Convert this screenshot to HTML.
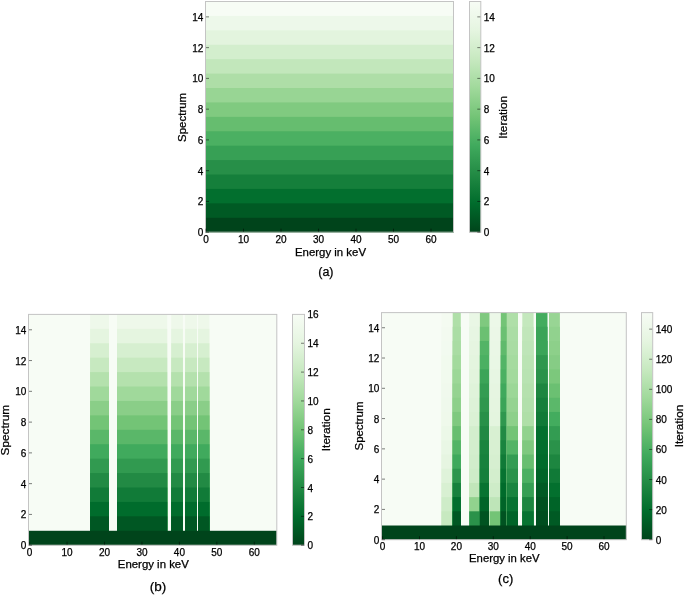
<!DOCTYPE html>
<html><head><meta charset="utf-8"><title>Figure</title>
<style>
html,body{margin:0;padding:0;background:#fff;width:685px;height:595px;overflow:hidden;}
svg{display:block;filter:blur(0.35px);font-family:"Liberation Sans",sans-serif;}
text{font-family:"Liberation Sans",sans-serif;fill:#000;stroke:#000;stroke-width:0.25px;}
</style></head><body>
<svg width="685" height="595" viewBox="0 0 685 595" font-family="Liberation Sans, sans-serif" fill="#000"><defs><linearGradient id="ga" x1="0" y1="1" x2="0" y2="0"><stop offset="0.0000" stop-color="#00441b"/><stop offset="0.1250" stop-color="#006c2c"/><stop offset="0.2500" stop-color="#228a44"/><stop offset="0.3750" stop-color="#40aa5d"/><stop offset="0.5000" stop-color="#73c476"/><stop offset="0.6250" stop-color="#a0d99b"/><stop offset="0.7500" stop-color="#c7e9c0"/><stop offset="0.8750" stop-color="#e5f5e0"/><stop offset="1.0000" stop-color="#f7fcf5"/></linearGradient><linearGradient id="gb" x1="0" y1="1" x2="0" y2="0"><stop offset="0.0000" stop-color="#00441b"/><stop offset="0.1250" stop-color="#006c2c"/><stop offset="0.2500" stop-color="#228a44"/><stop offset="0.3750" stop-color="#40aa5d"/><stop offset="0.5000" stop-color="#73c476"/><stop offset="0.6250" stop-color="#a0d99b"/><stop offset="0.7500" stop-color="#c7e9c0"/><stop offset="0.8750" stop-color="#e5f5e0"/><stop offset="1.0000" stop-color="#f7fcf5"/></linearGradient><linearGradient id="gc" x1="0" y1="1" x2="0" y2="0"><stop offset="0.0000" stop-color="#00441b"/><stop offset="0.1250" stop-color="#006c2c"/><stop offset="0.2500" stop-color="#228a44"/><stop offset="0.3750" stop-color="#40aa5d"/><stop offset="0.5000" stop-color="#73c476"/><stop offset="0.6250" stop-color="#a0d99b"/><stop offset="0.7500" stop-color="#c7e9c0"/><stop offset="0.8750" stop-color="#e5f5e0"/><stop offset="1.0000" stop-color="#f7fcf5"/></linearGradient></defs><rect x="0" y="0" width="685" height="595" fill="#fff"/><rect x="205.50" y="1.50" width="248.00" height="230.70" fill="#f7fcf5"/>
<rect x="205.50" y="15.92" width="248.00" height="216.28" fill="#edf8ea"/>
<rect x="205.50" y="30.34" width="248.00" height="201.86" fill="#e3f4de"/>
<rect x="205.50" y="44.76" width="248.00" height="187.44" fill="#d3eecd"/>
<rect x="205.50" y="59.18" width="248.00" height="173.02" fill="#c2e7bb"/>
<rect x="205.50" y="73.59" width="248.00" height="158.61" fill="#aedea7"/>
<rect x="205.50" y="88.01" width="248.00" height="144.19" fill="#98d594"/>
<rect x="205.50" y="102.43" width="248.00" height="129.77" fill="#80ca80"/>
<rect x="205.50" y="116.85" width="248.00" height="115.35" fill="#66bd6f"/>
<rect x="205.50" y="131.27" width="248.00" height="100.93" fill="#4bb062"/>
<rect x="205.50" y="145.69" width="248.00" height="86.51" fill="#37a055"/>
<rect x="205.50" y="160.11" width="248.00" height="72.09" fill="#278f48"/>
<rect x="205.50" y="174.52" width="248.00" height="57.68" fill="#157f3b"/>
<rect x="205.50" y="188.94" width="248.00" height="43.26" fill="#026f2e"/>
<rect x="205.50" y="203.36" width="248.00" height="28.84" fill="#005a24"/>
<rect x="205.50" y="217.78" width="248.00" height="14.42" fill="#00441b"/>
<rect x="205.50" y="1.50" width="248.00" height="230.70" fill="none" stroke="#c4c4c4" stroke-width="1"/>
<line x1="206.00" y1="232.20" x2="209.00" y2="232.20" stroke="#000" stroke-opacity="0.5" stroke-width="1"/>
<text x="203.30" y="236.20" font-size="10" text-anchor="end">0</text>
<line x1="206.00" y1="201.44" x2="209.00" y2="201.44" stroke="#000" stroke-opacity="0.5" stroke-width="1"/>
<text x="203.30" y="205.44" font-size="10" text-anchor="end">2</text>
<line x1="206.00" y1="170.68" x2="209.00" y2="170.68" stroke="#000" stroke-opacity="0.5" stroke-width="1"/>
<text x="203.30" y="174.68" font-size="10" text-anchor="end">4</text>
<line x1="206.00" y1="139.92" x2="209.00" y2="139.92" stroke="#000" stroke-opacity="0.5" stroke-width="1"/>
<text x="203.30" y="143.92" font-size="10" text-anchor="end">6</text>
<line x1="206.00" y1="109.16" x2="209.00" y2="109.16" stroke="#000" stroke-opacity="0.5" stroke-width="1"/>
<text x="203.30" y="113.16" font-size="10" text-anchor="end">8</text>
<line x1="206.00" y1="78.40" x2="209.00" y2="78.40" stroke="#000" stroke-opacity="0.5" stroke-width="1"/>
<text x="203.30" y="82.40" font-size="10" text-anchor="end">10</text>
<line x1="206.00" y1="47.64" x2="209.00" y2="47.64" stroke="#000" stroke-opacity="0.5" stroke-width="1"/>
<text x="203.30" y="51.64" font-size="10" text-anchor="end">12</text>
<line x1="206.00" y1="16.88" x2="209.00" y2="16.88" stroke="#000" stroke-opacity="0.5" stroke-width="1"/>
<text x="203.30" y="20.88" font-size="10" text-anchor="end">14</text>
<line x1="206.00" y1="231.70" x2="206.00" y2="228.70" stroke="#000" stroke-opacity="0.5" stroke-width="1"/>
<text x="206.00" y="243.20" font-size="10" text-anchor="middle">0</text>
<line x1="243.50" y1="231.70" x2="243.50" y2="228.70" stroke="#000" stroke-opacity="0.5" stroke-width="1"/>
<text x="243.50" y="243.20" font-size="10" text-anchor="middle">10</text>
<line x1="281.00" y1="231.70" x2="281.00" y2="228.70" stroke="#000" stroke-opacity="0.5" stroke-width="1"/>
<text x="281.00" y="243.20" font-size="10" text-anchor="middle">20</text>
<line x1="318.50" y1="231.70" x2="318.50" y2="228.70" stroke="#000" stroke-opacity="0.5" stroke-width="1"/>
<text x="318.50" y="243.20" font-size="10" text-anchor="middle">30</text>
<line x1="356.00" y1="231.70" x2="356.00" y2="228.70" stroke="#000" stroke-opacity="0.5" stroke-width="1"/>
<text x="356.00" y="243.20" font-size="10" text-anchor="middle">40</text>
<line x1="393.50" y1="231.70" x2="393.50" y2="228.70" stroke="#000" stroke-opacity="0.5" stroke-width="1"/>
<text x="393.50" y="243.20" font-size="10" text-anchor="middle">50</text>
<line x1="431.00" y1="231.70" x2="431.00" y2="228.70" stroke="#000" stroke-opacity="0.5" stroke-width="1"/>
<text x="431.00" y="243.20" font-size="10" text-anchor="middle">60</text>
<rect x="469.50" y="1.50" width="11.30" height="230.70" fill="url(#ga)"/>
<rect x="469.50" y="1.50" width="11.30" height="230.70" fill="none" stroke="#c4c4c4" stroke-width="1"/>
<line x1="477.30" y1="232.20" x2="480.30" y2="232.20" stroke="#000" stroke-opacity="0.5" stroke-width="1"/>
<text x="483.80" y="236.20" font-size="10" text-anchor="start">0</text>
<line x1="477.30" y1="201.44" x2="480.30" y2="201.44" stroke="#000" stroke-opacity="0.5" stroke-width="1"/>
<text x="483.80" y="205.44" font-size="10" text-anchor="start">2</text>
<line x1="477.30" y1="170.68" x2="480.30" y2="170.68" stroke="#000" stroke-opacity="0.5" stroke-width="1"/>
<text x="483.80" y="174.68" font-size="10" text-anchor="start">4</text>
<line x1="477.30" y1="139.92" x2="480.30" y2="139.92" stroke="#000" stroke-opacity="0.5" stroke-width="1"/>
<text x="483.80" y="143.92" font-size="10" text-anchor="start">6</text>
<line x1="477.30" y1="109.16" x2="480.30" y2="109.16" stroke="#000" stroke-opacity="0.5" stroke-width="1"/>
<text x="483.80" y="113.16" font-size="10" text-anchor="start">8</text>
<line x1="477.30" y1="78.40" x2="480.30" y2="78.40" stroke="#000" stroke-opacity="0.5" stroke-width="1"/>
<text x="483.80" y="82.40" font-size="10" text-anchor="start">10</text>
<line x1="477.30" y1="47.64" x2="480.30" y2="47.64" stroke="#000" stroke-opacity="0.5" stroke-width="1"/>
<text x="483.80" y="51.64" font-size="10" text-anchor="start">12</text>
<line x1="477.30" y1="16.88" x2="480.30" y2="16.88" stroke="#000" stroke-opacity="0.5" stroke-width="1"/>
<text x="483.80" y="20.88" font-size="10" text-anchor="start">14</text>
<text x="330.50" y="256.10" font-size="10.5" text-anchor="middle" textLength="71" lengthAdjust="spacingAndGlyphs">Energy in keV</text>
<text x="0" y="0" transform="translate(186.00,117.40) rotate(-90)" font-size="10.5" text-anchor="middle" textLength="49" lengthAdjust="spacingAndGlyphs">Spectrum</text>
<text x="0" y="0" transform="translate(507.00,117.30) rotate(-90)" font-size="10.5" text-anchor="middle" textLength="43" lengthAdjust="spacingAndGlyphs">Iteration</text>
<text x="325.90" y="276.40" font-size="12.5" text-anchor="middle">(a)</text>
<rect x="28.50" y="314.40" width="248.30" height="230.80" fill="#f7fcf5"/>
<rect x="90.10" y="314.40" width="18.90" height="225.80" fill="#eef8ea"/>
<rect x="90.10" y="328.82" width="18.90" height="211.38" fill="#e5f5e0"/>
<rect x="90.10" y="343.25" width="18.90" height="196.95" fill="#d6efd0"/>
<rect x="90.10" y="357.67" width="18.90" height="182.53" fill="#c7e9c0"/>
<rect x="90.10" y="372.10" width="18.90" height="168.10" fill="#b4e1ad"/>
<rect x="90.10" y="386.52" width="18.90" height="153.68" fill="#a0d99b"/>
<rect x="90.10" y="400.95" width="18.90" height="139.25" fill="#8ace88"/>
<rect x="90.10" y="415.38" width="18.90" height="124.83" fill="#73c476"/>
<rect x="90.10" y="429.80" width="18.90" height="110.40" fill="#5ab769"/>
<rect x="90.10" y="444.23" width="18.90" height="95.98" fill="#40aa5d"/>
<rect x="90.10" y="458.65" width="18.90" height="81.55" fill="#319a50"/>
<rect x="90.10" y="473.08" width="18.90" height="67.12" fill="#228a44"/>
<rect x="90.10" y="487.50" width="18.90" height="52.70" fill="#117b38"/>
<rect x="90.10" y="501.93" width="18.90" height="38.28" fill="#006c2c"/>
<rect x="90.10" y="516.35" width="18.90" height="23.85" fill="#005723"/>
<rect x="117.00" y="314.40" width="50.20" height="225.80" fill="#eef8ea"/>
<rect x="117.00" y="328.82" width="50.20" height="211.38" fill="#e5f5e0"/>
<rect x="117.00" y="343.25" width="50.20" height="196.95" fill="#d6efd0"/>
<rect x="117.00" y="357.67" width="50.20" height="182.53" fill="#c7e9c0"/>
<rect x="117.00" y="372.10" width="50.20" height="168.10" fill="#b4e1ad"/>
<rect x="117.00" y="386.52" width="50.20" height="153.68" fill="#a0d99b"/>
<rect x="117.00" y="400.95" width="50.20" height="139.25" fill="#8ace88"/>
<rect x="117.00" y="415.38" width="50.20" height="124.83" fill="#73c476"/>
<rect x="117.00" y="429.80" width="50.20" height="110.40" fill="#5ab769"/>
<rect x="117.00" y="444.23" width="50.20" height="95.98" fill="#40aa5d"/>
<rect x="117.00" y="458.65" width="50.20" height="81.55" fill="#319a50"/>
<rect x="117.00" y="473.08" width="50.20" height="67.12" fill="#228a44"/>
<rect x="117.00" y="487.50" width="50.20" height="52.70" fill="#117b38"/>
<rect x="117.00" y="501.93" width="50.20" height="38.28" fill="#006c2c"/>
<rect x="117.00" y="516.35" width="50.20" height="23.85" fill="#005723"/>
<rect x="171.20" y="314.40" width="11.70" height="225.80" fill="#eef8ea"/>
<rect x="171.20" y="328.82" width="11.70" height="211.38" fill="#e5f5e0"/>
<rect x="171.20" y="343.25" width="11.70" height="196.95" fill="#d6efd0"/>
<rect x="171.20" y="357.67" width="11.70" height="182.53" fill="#c7e9c0"/>
<rect x="171.20" y="372.10" width="11.70" height="168.10" fill="#b4e1ad"/>
<rect x="171.20" y="386.52" width="11.70" height="153.68" fill="#a0d99b"/>
<rect x="171.20" y="400.95" width="11.70" height="139.25" fill="#8ace88"/>
<rect x="171.20" y="415.38" width="11.70" height="124.83" fill="#73c476"/>
<rect x="171.20" y="429.80" width="11.70" height="110.40" fill="#5ab769"/>
<rect x="171.20" y="444.23" width="11.70" height="95.98" fill="#40aa5d"/>
<rect x="171.20" y="458.65" width="11.70" height="81.55" fill="#319a50"/>
<rect x="171.20" y="473.08" width="11.70" height="67.12" fill="#228a44"/>
<rect x="171.20" y="487.50" width="11.70" height="52.70" fill="#117b38"/>
<rect x="171.20" y="501.93" width="11.70" height="38.28" fill="#006c2c"/>
<rect x="171.20" y="516.35" width="11.70" height="23.85" fill="#005723"/>
<rect x="185.10" y="314.40" width="11.90" height="225.80" fill="#eef8ea"/>
<rect x="185.10" y="328.82" width="11.90" height="211.38" fill="#e5f5e0"/>
<rect x="185.10" y="343.25" width="11.90" height="196.95" fill="#d6efd0"/>
<rect x="185.10" y="357.67" width="11.90" height="182.53" fill="#c7e9c0"/>
<rect x="185.10" y="372.10" width="11.90" height="168.10" fill="#b4e1ad"/>
<rect x="185.10" y="386.52" width="11.90" height="153.68" fill="#a0d99b"/>
<rect x="185.10" y="400.95" width="11.90" height="139.25" fill="#8ace88"/>
<rect x="185.10" y="415.38" width="11.90" height="124.83" fill="#73c476"/>
<rect x="185.10" y="429.80" width="11.90" height="110.40" fill="#5ab769"/>
<rect x="185.10" y="444.23" width="11.90" height="95.98" fill="#40aa5d"/>
<rect x="185.10" y="458.65" width="11.90" height="81.55" fill="#319a50"/>
<rect x="185.10" y="473.08" width="11.90" height="67.12" fill="#228a44"/>
<rect x="185.10" y="487.50" width="11.90" height="52.70" fill="#117b38"/>
<rect x="185.10" y="501.93" width="11.90" height="38.28" fill="#006c2c"/>
<rect x="185.10" y="516.35" width="11.90" height="23.85" fill="#005723"/>
<rect x="198.10" y="314.40" width="11.30" height="225.80" fill="#eef8ea"/>
<rect x="198.10" y="328.82" width="11.30" height="211.38" fill="#e5f5e0"/>
<rect x="198.10" y="343.25" width="11.30" height="196.95" fill="#d6efd0"/>
<rect x="198.10" y="357.67" width="11.30" height="182.53" fill="#c7e9c0"/>
<rect x="198.10" y="372.10" width="11.30" height="168.10" fill="#b4e1ad"/>
<rect x="198.10" y="386.52" width="11.30" height="153.68" fill="#a0d99b"/>
<rect x="198.10" y="400.95" width="11.30" height="139.25" fill="#8ace88"/>
<rect x="198.10" y="415.38" width="11.30" height="124.83" fill="#73c476"/>
<rect x="198.10" y="429.80" width="11.30" height="110.40" fill="#5ab769"/>
<rect x="198.10" y="444.23" width="11.30" height="95.98" fill="#40aa5d"/>
<rect x="198.10" y="458.65" width="11.30" height="81.55" fill="#319a50"/>
<rect x="198.10" y="473.08" width="11.30" height="67.12" fill="#228a44"/>
<rect x="198.10" y="487.50" width="11.30" height="52.70" fill="#117b38"/>
<rect x="198.10" y="501.93" width="11.30" height="38.28" fill="#006c2c"/>
<rect x="198.10" y="516.35" width="11.30" height="23.85" fill="#005723"/>
<rect x="28.50" y="530.78" width="248.30" height="14.42" fill="#00441b"/>
<rect x="28.50" y="314.40" width="248.30" height="230.80" fill="none" stroke="#c4c4c4" stroke-width="1"/>
<line x1="29.00" y1="545.20" x2="32.00" y2="545.20" stroke="#000" stroke-opacity="0.5" stroke-width="1"/>
<text x="26.30" y="549.20" font-size="10" text-anchor="end">0</text>
<line x1="29.00" y1="514.43" x2="32.00" y2="514.43" stroke="#000" stroke-opacity="0.5" stroke-width="1"/>
<text x="26.30" y="518.43" font-size="10" text-anchor="end">2</text>
<line x1="29.00" y1="483.65" x2="32.00" y2="483.65" stroke="#000" stroke-opacity="0.5" stroke-width="1"/>
<text x="26.30" y="487.65" font-size="10" text-anchor="end">4</text>
<line x1="29.00" y1="452.88" x2="32.00" y2="452.88" stroke="#000" stroke-opacity="0.5" stroke-width="1"/>
<text x="26.30" y="456.88" font-size="10" text-anchor="end">6</text>
<line x1="29.00" y1="422.11" x2="32.00" y2="422.11" stroke="#000" stroke-opacity="0.5" stroke-width="1"/>
<text x="26.30" y="426.11" font-size="10" text-anchor="end">8</text>
<line x1="29.00" y1="391.33" x2="32.00" y2="391.33" stroke="#000" stroke-opacity="0.5" stroke-width="1"/>
<text x="26.30" y="395.33" font-size="10" text-anchor="end">10</text>
<line x1="29.00" y1="360.56" x2="32.00" y2="360.56" stroke="#000" stroke-opacity="0.5" stroke-width="1"/>
<text x="26.30" y="364.56" font-size="10" text-anchor="end">12</text>
<line x1="29.00" y1="329.79" x2="32.00" y2="329.79" stroke="#000" stroke-opacity="0.5" stroke-width="1"/>
<text x="26.30" y="333.79" font-size="10" text-anchor="end">14</text>
<line x1="29.60" y1="544.70" x2="29.60" y2="541.70" stroke="#000" stroke-opacity="0.5" stroke-width="1"/>
<text x="29.60" y="555.70" font-size="10" text-anchor="middle">0</text>
<line x1="67.05" y1="544.70" x2="67.05" y2="541.70" stroke="#000" stroke-opacity="0.5" stroke-width="1"/>
<text x="67.05" y="555.70" font-size="10" text-anchor="middle">10</text>
<line x1="104.50" y1="544.70" x2="104.50" y2="541.70" stroke="#000" stroke-opacity="0.5" stroke-width="1"/>
<text x="104.50" y="555.70" font-size="10" text-anchor="middle">20</text>
<line x1="141.95" y1="544.70" x2="141.95" y2="541.70" stroke="#000" stroke-opacity="0.5" stroke-width="1"/>
<text x="141.95" y="555.70" font-size="10" text-anchor="middle">30</text>
<line x1="179.40" y1="544.70" x2="179.40" y2="541.70" stroke="#000" stroke-opacity="0.5" stroke-width="1"/>
<text x="179.40" y="555.70" font-size="10" text-anchor="middle">40</text>
<line x1="216.85" y1="544.70" x2="216.85" y2="541.70" stroke="#000" stroke-opacity="0.5" stroke-width="1"/>
<text x="216.85" y="555.70" font-size="10" text-anchor="middle">50</text>
<line x1="254.30" y1="544.70" x2="254.30" y2="541.70" stroke="#000" stroke-opacity="0.5" stroke-width="1"/>
<text x="254.30" y="555.70" font-size="10" text-anchor="middle">60</text>
<rect x="292.50" y="314.40" width="12.00" height="230.80" fill="url(#gb)"/>
<rect x="292.50" y="314.40" width="12.00" height="230.80" fill="none" stroke="#c4c4c4" stroke-width="1"/>
<line x1="301.00" y1="545.20" x2="304.00" y2="545.20" stroke="#000" stroke-opacity="0.5" stroke-width="1"/>
<text x="307.50" y="549.20" font-size="10" text-anchor="start">0</text>
<line x1="301.00" y1="516.35" x2="304.00" y2="516.35" stroke="#000" stroke-opacity="0.5" stroke-width="1"/>
<text x="307.50" y="520.35" font-size="10" text-anchor="start">2</text>
<line x1="301.00" y1="487.50" x2="304.00" y2="487.50" stroke="#000" stroke-opacity="0.5" stroke-width="1"/>
<text x="307.50" y="491.50" font-size="10" text-anchor="start">4</text>
<line x1="301.00" y1="458.65" x2="304.00" y2="458.65" stroke="#000" stroke-opacity="0.5" stroke-width="1"/>
<text x="307.50" y="462.65" font-size="10" text-anchor="start">6</text>
<line x1="301.00" y1="429.80" x2="304.00" y2="429.80" stroke="#000" stroke-opacity="0.5" stroke-width="1"/>
<text x="307.50" y="433.80" font-size="10" text-anchor="start">8</text>
<line x1="301.00" y1="400.95" x2="304.00" y2="400.95" stroke="#000" stroke-opacity="0.5" stroke-width="1"/>
<text x="307.50" y="404.95" font-size="10" text-anchor="start">10</text>
<line x1="301.00" y1="372.10" x2="304.00" y2="372.10" stroke="#000" stroke-opacity="0.5" stroke-width="1"/>
<text x="307.50" y="376.10" font-size="10" text-anchor="start">12</text>
<line x1="301.00" y1="343.25" x2="304.00" y2="343.25" stroke="#000" stroke-opacity="0.5" stroke-width="1"/>
<text x="307.50" y="347.25" font-size="10" text-anchor="start">14</text>
<text x="307.50" y="318.40" font-size="10" text-anchor="start">16</text>
<text x="153.30" y="568.00" font-size="10.5" text-anchor="middle" textLength="71" lengthAdjust="spacingAndGlyphs">Energy in keV</text>
<text x="0" y="0" transform="translate(9.20,430.20) rotate(-90)" font-size="10.5" text-anchor="middle" textLength="50.5" lengthAdjust="spacingAndGlyphs">Spectrum</text>
<text x="0" y="0" transform="translate(330.00,429.70) rotate(-90)" font-size="10.5" text-anchor="middle" textLength="43" lengthAdjust="spacingAndGlyphs">Iteration</text>
<text x="158.00" y="590.60" font-size="13.5" text-anchor="middle">(b)</text>
<rect x="381.50" y="312.60" width="244.80" height="227.10" fill="#f7fcf5"/>
<rect x="441.60" y="312.60" width="11.10" height="222.10" fill="#f4fbf1"/>
<rect x="441.60" y="326.79" width="11.10" height="207.91" fill="#f3faf0"/>
<rect x="441.60" y="340.99" width="11.10" height="193.71" fill="#f2faf0"/>
<rect x="441.60" y="355.18" width="11.10" height="179.52" fill="#f1faee"/>
<rect x="441.60" y="369.38" width="11.10" height="165.33" fill="#f1faee"/>
<rect x="441.60" y="383.57" width="11.10" height="151.13" fill="#f0f9ed"/>
<rect x="441.60" y="397.76" width="11.10" height="136.94" fill="#eff9ec"/>
<rect x="441.60" y="411.96" width="11.10" height="122.74" fill="#eff9eb"/>
<rect x="441.60" y="426.15" width="11.10" height="108.55" fill="#ecf8e8"/>
<rect x="441.60" y="440.34" width="11.10" height="94.36" fill="#e9f7e5"/>
<rect x="441.60" y="454.54" width="11.10" height="80.16" fill="#e6f5e1"/>
<rect x="441.60" y="468.73" width="11.10" height="65.97" fill="#dff3da"/>
<rect x="441.60" y="482.93" width="11.10" height="51.77" fill="#d8f0d2"/>
<rect x="441.60" y="497.12" width="11.10" height="37.58" fill="#ceecc8"/>
<rect x="441.60" y="511.31" width="11.10" height="23.39" fill="#c7e9c0"/>
<rect x="452.70" y="312.60" width="8.10" height="222.10" fill="#afdfa8"/>
<rect x="452.70" y="326.79" width="8.10" height="207.91" fill="#abdda5"/>
<rect x="452.70" y="340.99" width="8.10" height="193.71" fill="#a9dca3"/>
<rect x="452.70" y="355.18" width="8.10" height="179.52" fill="#a3da9d"/>
<rect x="452.70" y="369.38" width="8.10" height="165.33" fill="#9cd797"/>
<rect x="452.70" y="383.57" width="8.10" height="151.13" fill="#95d391"/>
<rect x="452.70" y="397.76" width="8.10" height="136.94" fill="#8dd08a"/>
<rect x="452.70" y="411.96" width="8.10" height="122.74" fill="#7fc97f"/>
<rect x="452.70" y="426.15" width="8.10" height="108.55" fill="#68be70"/>
<rect x="452.70" y="440.34" width="8.10" height="94.36" fill="#53b466"/>
<rect x="452.70" y="454.54" width="8.10" height="80.16" fill="#3fa95c"/>
<rect x="452.70" y="468.73" width="8.10" height="65.97" fill="#2d954d"/>
<rect x="452.70" y="482.93" width="8.10" height="51.77" fill="#17813d"/>
<rect x="452.70" y="497.12" width="8.10" height="37.58" fill="#016e2d"/>
<rect x="452.70" y="511.31" width="8.10" height="23.39" fill="#005723"/>
<rect x="469.20" y="312.60" width="10.70" height="222.10" fill="#e9f7e5"/>
<rect x="469.20" y="326.79" width="10.70" height="207.91" fill="#e7f6e3"/>
<rect x="469.20" y="340.99" width="10.70" height="193.71" fill="#e6f5e1"/>
<rect x="469.20" y="355.18" width="10.70" height="179.52" fill="#e4f5df"/>
<rect x="469.20" y="369.38" width="10.70" height="165.33" fill="#e2f4dd"/>
<rect x="469.20" y="383.57" width="10.70" height="151.13" fill="#dff3da"/>
<rect x="469.20" y="397.76" width="10.70" height="136.94" fill="#ddf2d8"/>
<rect x="469.20" y="411.96" width="10.70" height="122.74" fill="#dbf1d5"/>
<rect x="469.20" y="426.15" width="10.70" height="108.55" fill="#d3eecd"/>
<rect x="469.20" y="440.34" width="10.70" height="94.36" fill="#d3eecd"/>
<rect x="469.20" y="454.54" width="10.70" height="80.16" fill="#d1edcb"/>
<rect x="469.20" y="468.73" width="10.70" height="65.97" fill="#ceecc8"/>
<rect x="469.20" y="482.93" width="10.70" height="51.77" fill="#c1e6ba"/>
<rect x="469.20" y="497.12" width="10.70" height="37.58" fill="#91d28e"/>
<rect x="469.20" y="511.31" width="10.70" height="23.39" fill="#2a924a"/>
<rect x="479.90" y="312.60" width="9.80" height="222.10" fill="#7fc97f"/>
<rect x="479.90" y="326.79" width="9.80" height="207.91" fill="#6bc072"/>
<rect x="479.90" y="340.99" width="9.80" height="193.71" fill="#53b466"/>
<rect x="479.90" y="355.18" width="9.80" height="179.52" fill="#4bb062"/>
<rect x="479.90" y="369.38" width="9.80" height="165.33" fill="#3ba458"/>
<rect x="479.90" y="383.57" width="9.80" height="151.13" fill="#339c52"/>
<rect x="479.90" y="397.76" width="9.80" height="136.94" fill="#2f974e"/>
<rect x="479.90" y="411.96" width="9.80" height="122.74" fill="#289049"/>
<rect x="479.90" y="426.15" width="9.80" height="108.55" fill="#208843"/>
<rect x="479.90" y="440.34" width="9.80" height="94.36" fill="#1a843f"/>
<rect x="479.90" y="454.54" width="9.80" height="80.16" fill="#17813d"/>
<rect x="479.90" y="468.73" width="9.80" height="65.97" fill="#157f3b"/>
<rect x="479.90" y="482.93" width="9.80" height="51.77" fill="#077331"/>
<rect x="479.90" y="497.12" width="9.80" height="37.58" fill="#006428"/>
<rect x="479.90" y="511.31" width="9.80" height="23.39" fill="#005321"/>
<rect x="489.70" y="312.60" width="11.10" height="222.10" fill="#ecf8e8"/>
<rect x="489.70" y="326.79" width="11.10" height="207.91" fill="#ebf7e7"/>
<rect x="489.70" y="340.99" width="11.10" height="193.71" fill="#eaf7e6"/>
<rect x="489.70" y="355.18" width="11.10" height="179.52" fill="#e9f7e5"/>
<rect x="489.70" y="369.38" width="11.10" height="165.33" fill="#e7f6e3"/>
<rect x="489.70" y="383.57" width="11.10" height="151.13" fill="#e6f5e1"/>
<rect x="489.70" y="397.76" width="11.10" height="136.94" fill="#e5f5e0"/>
<rect x="489.70" y="411.96" width="11.10" height="122.74" fill="#e4f5df"/>
<rect x="489.70" y="426.15" width="11.10" height="108.55" fill="#d8f0d2"/>
<rect x="489.70" y="440.34" width="11.10" height="94.36" fill="#d8f0d2"/>
<rect x="489.70" y="454.54" width="11.10" height="80.16" fill="#d6efd0"/>
<rect x="489.70" y="468.73" width="11.10" height="65.97" fill="#d3eecd"/>
<rect x="489.70" y="482.93" width="11.10" height="51.77" fill="#ceecc8"/>
<rect x="489.70" y="497.12" width="11.10" height="37.58" fill="#bee5b8"/>
<rect x="489.70" y="511.31" width="11.10" height="23.39" fill="#73c476"/>
<rect x="500.80" y="312.60" width="6.10" height="222.10" fill="#73c476"/>
<rect x="500.80" y="326.79" width="6.10" height="207.91" fill="#6bc072"/>
<rect x="500.80" y="340.99" width="6.10" height="193.71" fill="#60ba6c"/>
<rect x="500.80" y="355.18" width="6.10" height="179.52" fill="#53b466"/>
<rect x="500.80" y="369.38" width="6.10" height="165.33" fill="#4bb062"/>
<rect x="500.80" y="383.57" width="6.10" height="151.13" fill="#3fa95c"/>
<rect x="500.80" y="397.76" width="6.10" height="136.94" fill="#3ba458"/>
<rect x="500.80" y="411.96" width="6.10" height="122.74" fill="#2f974e"/>
<rect x="500.80" y="426.15" width="6.10" height="108.55" fill="#228a44"/>
<rect x="500.80" y="440.34" width="6.10" height="94.36" fill="#1a843f"/>
<rect x="500.80" y="454.54" width="6.10" height="80.16" fill="#107a37"/>
<rect x="500.80" y="468.73" width="6.10" height="65.97" fill="#077331"/>
<rect x="500.80" y="482.93" width="6.10" height="51.77" fill="#006b2b"/>
<rect x="500.80" y="497.12" width="6.10" height="37.58" fill="#006428"/>
<rect x="500.80" y="511.31" width="6.10" height="23.39" fill="#005321"/>
<rect x="506.90" y="312.60" width="11.10" height="222.10" fill="#afdfa8"/>
<rect x="506.90" y="326.79" width="11.10" height="207.91" fill="#abdda5"/>
<rect x="506.90" y="340.99" width="11.10" height="193.71" fill="#a9dca3"/>
<rect x="506.90" y="355.18" width="11.10" height="179.52" fill="#a5db9f"/>
<rect x="506.90" y="369.38" width="11.10" height="165.33" fill="#a3da9d"/>
<rect x="506.90" y="383.57" width="11.10" height="151.13" fill="#9cd797"/>
<rect x="506.90" y="397.76" width="11.10" height="136.94" fill="#95d391"/>
<rect x="506.90" y="411.96" width="11.10" height="122.74" fill="#8dd08a"/>
<rect x="506.90" y="426.15" width="11.10" height="108.55" fill="#73c476"/>
<rect x="506.90" y="440.34" width="11.10" height="94.36" fill="#53b466"/>
<rect x="506.90" y="454.54" width="11.10" height="80.16" fill="#339c52"/>
<rect x="506.90" y="468.73" width="11.10" height="65.97" fill="#2a924a"/>
<rect x="506.90" y="482.93" width="11.10" height="51.77" fill="#1a843f"/>
<rect x="506.90" y="497.12" width="11.10" height="37.58" fill="#077331"/>
<rect x="506.90" y="511.31" width="11.10" height="23.39" fill="#006428"/>
<rect x="522.30" y="312.60" width="11.30" height="222.10" fill="#c4e8bd"/>
<rect x="522.30" y="326.79" width="11.30" height="207.91" fill="#c1e6ba"/>
<rect x="522.30" y="340.99" width="11.30" height="193.71" fill="#bee5b8"/>
<rect x="522.30" y="355.18" width="11.30" height="179.52" fill="#bbe4b4"/>
<rect x="522.30" y="369.38" width="11.30" height="165.33" fill="#b8e3b2"/>
<rect x="522.30" y="383.57" width="11.30" height="151.13" fill="#b5e1ae"/>
<rect x="522.30" y="397.76" width="11.30" height="136.94" fill="#b2e0ac"/>
<rect x="522.30" y="411.96" width="11.30" height="122.74" fill="#afdfa8"/>
<rect x="522.30" y="426.15" width="11.30" height="108.55" fill="#91d28e"/>
<rect x="522.30" y="440.34" width="11.30" height="94.36" fill="#7fc97f"/>
<rect x="522.30" y="454.54" width="11.30" height="80.16" fill="#68be70"/>
<rect x="522.30" y="468.73" width="11.30" height="65.97" fill="#4bb062"/>
<rect x="522.30" y="482.93" width="11.30" height="51.77" fill="#369f54"/>
<rect x="522.30" y="497.12" width="11.30" height="37.58" fill="#1d8640"/>
<rect x="522.30" y="511.31" width="11.30" height="23.39" fill="#077331"/>
<rect x="536.00" y="312.60" width="11.50" height="222.10" fill="#43ac5e"/>
<rect x="536.00" y="326.79" width="11.50" height="207.91" fill="#3ba458"/>
<rect x="536.00" y="340.99" width="11.50" height="193.71" fill="#3ba458"/>
<rect x="536.00" y="355.18" width="11.50" height="179.52" fill="#2f974e"/>
<rect x="536.00" y="369.38" width="11.50" height="165.33" fill="#2a924a"/>
<rect x="536.00" y="383.57" width="11.50" height="151.13" fill="#1d8640"/>
<rect x="536.00" y="397.76" width="11.50" height="136.94" fill="#157f3b"/>
<rect x="536.00" y="411.96" width="11.50" height="122.74" fill="#107a37"/>
<rect x="536.00" y="426.15" width="11.50" height="108.55" fill="#03702e"/>
<rect x="536.00" y="440.34" width="11.50" height="94.36" fill="#016e2d"/>
<rect x="536.00" y="454.54" width="11.50" height="80.16" fill="#006b2b"/>
<rect x="536.00" y="468.73" width="11.50" height="65.97" fill="#006428"/>
<rect x="536.00" y="482.93" width="11.50" height="51.77" fill="#005a24"/>
<rect x="536.00" y="497.12" width="11.50" height="37.58" fill="#005120"/>
<rect x="536.00" y="511.31" width="11.50" height="23.39" fill="#004d1f"/>
<rect x="549.00" y="312.60" width="10.90" height="222.10" fill="#98d594"/>
<rect x="549.00" y="326.79" width="10.90" height="207.91" fill="#91d28e"/>
<rect x="549.00" y="340.99" width="10.90" height="193.71" fill="#8dd08a"/>
<rect x="549.00" y="355.18" width="10.90" height="179.52" fill="#86cc85"/>
<rect x="549.00" y="369.38" width="10.90" height="165.33" fill="#7cc87c"/>
<rect x="549.00" y="383.57" width="10.90" height="151.13" fill="#6bc072"/>
<rect x="549.00" y="397.76" width="10.90" height="136.94" fill="#5bb86a"/>
<rect x="549.00" y="411.96" width="10.90" height="122.74" fill="#43ac5e"/>
<rect x="549.00" y="426.15" width="10.90" height="108.55" fill="#339c52"/>
<rect x="549.00" y="440.34" width="10.90" height="94.36" fill="#2a924a"/>
<rect x="549.00" y="454.54" width="10.90" height="80.16" fill="#1d8640"/>
<rect x="549.00" y="468.73" width="10.90" height="65.97" fill="#107a37"/>
<rect x="549.00" y="482.93" width="10.90" height="51.77" fill="#03702e"/>
<rect x="549.00" y="497.12" width="10.90" height="37.58" fill="#006428"/>
<rect x="549.00" y="511.31" width="10.90" height="23.39" fill="#005a24"/>
<rect x="381.50" y="525.51" width="244.80" height="14.19" fill="#00441b"/>
<rect x="381.50" y="312.60" width="244.80" height="227.10" fill="none" stroke="#c4c4c4" stroke-width="1"/>
<line x1="382.00" y1="539.70" x2="385.00" y2="539.70" stroke="#000" stroke-opacity="0.5" stroke-width="1"/>
<text x="379.30" y="543.70" font-size="10" text-anchor="end">0</text>
<line x1="382.00" y1="509.42" x2="385.00" y2="509.42" stroke="#000" stroke-opacity="0.5" stroke-width="1"/>
<text x="379.30" y="513.42" font-size="10" text-anchor="end">2</text>
<line x1="382.00" y1="479.14" x2="385.00" y2="479.14" stroke="#000" stroke-opacity="0.5" stroke-width="1"/>
<text x="379.30" y="483.14" font-size="10" text-anchor="end">4</text>
<line x1="382.00" y1="448.86" x2="385.00" y2="448.86" stroke="#000" stroke-opacity="0.5" stroke-width="1"/>
<text x="379.30" y="452.86" font-size="10" text-anchor="end">6</text>
<line x1="382.00" y1="418.58" x2="385.00" y2="418.58" stroke="#000" stroke-opacity="0.5" stroke-width="1"/>
<text x="379.30" y="422.58" font-size="10" text-anchor="end">8</text>
<line x1="382.00" y1="388.30" x2="385.00" y2="388.30" stroke="#000" stroke-opacity="0.5" stroke-width="1"/>
<text x="379.30" y="392.30" font-size="10" text-anchor="end">10</text>
<line x1="382.00" y1="358.02" x2="385.00" y2="358.02" stroke="#000" stroke-opacity="0.5" stroke-width="1"/>
<text x="379.30" y="362.02" font-size="10" text-anchor="end">12</text>
<line x1="382.00" y1="327.74" x2="385.00" y2="327.74" stroke="#000" stroke-opacity="0.5" stroke-width="1"/>
<text x="379.30" y="331.74" font-size="10" text-anchor="end">14</text>
<line x1="382.60" y1="539.20" x2="382.60" y2="536.20" stroke="#000" stroke-opacity="0.5" stroke-width="1"/>
<text x="382.60" y="550.30" font-size="10" text-anchor="middle">0</text>
<line x1="419.50" y1="539.20" x2="419.50" y2="536.20" stroke="#000" stroke-opacity="0.5" stroke-width="1"/>
<text x="419.50" y="550.30" font-size="10" text-anchor="middle">10</text>
<line x1="456.40" y1="539.20" x2="456.40" y2="536.20" stroke="#000" stroke-opacity="0.5" stroke-width="1"/>
<text x="456.40" y="550.30" font-size="10" text-anchor="middle">20</text>
<line x1="493.30" y1="539.20" x2="493.30" y2="536.20" stroke="#000" stroke-opacity="0.5" stroke-width="1"/>
<text x="493.30" y="550.30" font-size="10" text-anchor="middle">30</text>
<line x1="530.20" y1="539.20" x2="530.20" y2="536.20" stroke="#000" stroke-opacity="0.5" stroke-width="1"/>
<text x="530.20" y="550.30" font-size="10" text-anchor="middle">40</text>
<line x1="567.10" y1="539.20" x2="567.10" y2="536.20" stroke="#000" stroke-opacity="0.5" stroke-width="1"/>
<text x="567.10" y="550.30" font-size="10" text-anchor="middle">50</text>
<line x1="604.00" y1="539.20" x2="604.00" y2="536.20" stroke="#000" stroke-opacity="0.5" stroke-width="1"/>
<text x="604.00" y="550.30" font-size="10" text-anchor="middle">60</text>
<rect x="641.50" y="312.60" width="11.20" height="227.10" fill="url(#gc)"/>
<rect x="641.50" y="312.60" width="11.20" height="227.10" fill="none" stroke="#c4c4c4" stroke-width="1"/>
<line x1="649.20" y1="539.70" x2="652.20" y2="539.70" stroke="#000" stroke-opacity="0.5" stroke-width="1"/>
<text x="655.70" y="543.70" font-size="10" text-anchor="start">0</text>
<line x1="649.20" y1="509.62" x2="652.20" y2="509.62" stroke="#000" stroke-opacity="0.5" stroke-width="1"/>
<text x="655.70" y="513.62" font-size="10" text-anchor="start">20</text>
<line x1="649.20" y1="479.54" x2="652.20" y2="479.54" stroke="#000" stroke-opacity="0.5" stroke-width="1"/>
<text x="655.70" y="483.54" font-size="10" text-anchor="start">40</text>
<line x1="649.20" y1="449.46" x2="652.20" y2="449.46" stroke="#000" stroke-opacity="0.5" stroke-width="1"/>
<text x="655.70" y="453.46" font-size="10" text-anchor="start">60</text>
<line x1="649.20" y1="419.38" x2="652.20" y2="419.38" stroke="#000" stroke-opacity="0.5" stroke-width="1"/>
<text x="655.70" y="423.38" font-size="10" text-anchor="start">80</text>
<line x1="649.20" y1="389.30" x2="652.20" y2="389.30" stroke="#000" stroke-opacity="0.5" stroke-width="1"/>
<text x="655.70" y="393.30" font-size="10" text-anchor="start">100</text>
<line x1="649.20" y1="359.22" x2="652.20" y2="359.22" stroke="#000" stroke-opacity="0.5" stroke-width="1"/>
<text x="655.70" y="363.22" font-size="10" text-anchor="start">120</text>
<line x1="649.20" y1="329.14" x2="652.20" y2="329.14" stroke="#000" stroke-opacity="0.5" stroke-width="1"/>
<text x="655.70" y="333.14" font-size="10" text-anchor="start">140</text>
<text x="504.30" y="562.20" font-size="10.5" text-anchor="middle" textLength="70.5" lengthAdjust="spacingAndGlyphs">Energy in keV</text>
<text x="0" y="0" transform="translate(362.80,426.00) rotate(-90)" font-size="10.5" text-anchor="middle" textLength="49" lengthAdjust="spacingAndGlyphs">Spectrum</text>
<text x="0" y="0" transform="translate(682.90,426.00) rotate(-90)" font-size="10.5" text-anchor="middle" textLength="42.3" lengthAdjust="spacingAndGlyphs">Iteration</text>
<text x="505.70" y="583.30" font-size="13" text-anchor="middle">(c)</text></svg>
</body></html>
